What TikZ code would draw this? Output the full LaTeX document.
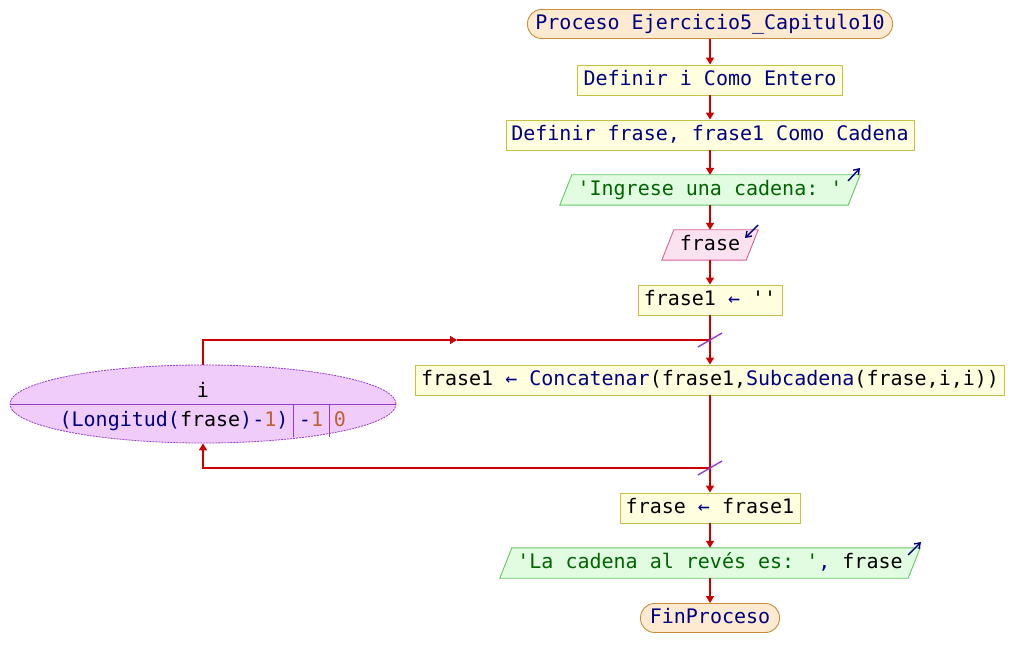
\documentclass[tikz,border=0pt]{standalone}
\usepackage{fontspec}
\setmonofont{DejaVu Sans Mono}
\usetikzlibrary{arrows.meta,backgrounds,shapes.geometric}
\definecolor{flowred}{RGB}{204,0,0}
\definecolor{kw}{RGB}{0,0,128}
\definecolor{strg}{RGB}{0,100,0}
\definecolor{num}{RGB}{192,96,48}
\definecolor{termfill}{RGB}{253,234,208}
\definecolor{termdraw}{RGB}{200,140,60}
\definecolor{boxfill}{RGB}{255,255,224}
\definecolor{boxdraw}{RGB}{200,192,64}
\definecolor{outfill}{RGB}{226,252,226}
\definecolor{outdraw}{RGB}{100,200,100}
\definecolor{infill}{RGB}{252,226,240}
\definecolor{indraw}{RGB}{210,100,150}
\definecolor{forfill}{RGB}{240,204,250}
\definecolor{fordraw}{RGB}{150,60,200}
\begin{document}
\begin{tikzpicture}[x=1pt,y=-1pt,
  txt/.style={font=\ttfamily\fontsize{20}{23}\selectfont, inner sep=0pt, text height=14pt, text depth=3.5pt, align=center},
  term/.style={txt, draw=termdraw, fill=termfill, line width=0.9pt, rounded corners=14pt, minimum height=29pt},
  proc/.style={txt, draw=boxdraw, fill=boxfill, line width=0.9pt, minimum height=30pt},
  io/.style={txt, minimum height=30pt},
  flow/.style={draw=flowred, line width=1.5pt, -{Triangle[width=8pt,length=7pt]}},
  line/.style={draw=flowred, line width=1.5pt},
  slash/.style={draw=fordraw, line width=1.4pt},
  ioarrow/.style={draw=kw, line width=1.4pt, -{Straight Barb[length=5pt,width=7pt]}},
  forshape/.style={ellipse, draw=fordraw, fill=forfill, line width=0.8pt, dash pattern=on 2pt off 1pt, minimum width=386pt, minimum height=78pt, inner sep=0pt}
]
\useasboundingbox (0,0) rectangle (1014,668);

\node[term, minimum width=365pt] (p1) at (710,24) {\color{kw}Proceso Ejercicio5\_Capitulo10};
\node[proc, minimum width=265pt] (d1) at (710,80) {\color{kw}Definir i Como Entero};
\node[proc, minimum width=408pt] (d2) at (710,135) {\color{kw}Definir frase, frase1 Como Cadena};
\node[io, minimum width=288pt] (o1) at (710,190) {\color{strg}'Ingrese una cadena: '};
\node[io, minimum width=84pt] (r1) at (710,245) {frase};
\node[proc, minimum width=144pt] (a1) at (710,300) {frase1 {\color{kw}←} ''};
\node[proc, minimum width=589pt] (cat) at (710,380) {frase1 {\color{kw}← Concatenar}(frase1,{\color{kw}Subcadena}(frase,i,i))};
\node[proc, minimum width=180pt] (a2) at (710,508) {frase {\color{kw}←} frase1};
\node[io, minimum width=408pt] (o2) at (710,563) {{\color{strg}'La cadena al revés es: '}{\color{kw},} frase};
\node[term, minimum width=139pt] (fin) at (710,618) {\color{kw}FinProceso};

\node[forshape] (ell) at (203,404) {};
\node[txt] (iv) at (203,392) {i};
\node[txt] (lim) at (174,421) {{\color{kw}(Longitud(}frase{\color{kw})-}{\color{num}1}{\color{kw})}};
\node[txt] (stp) at (311,421) {{\color{kw}-}{\color{num}1}};
\node[txt] (ini) at (340,421) {\color{num}0};
\draw[draw=fordraw, line width=0.8pt] (ell.west) -- (ell.east);
\draw[draw=fordraw, line width=0.8pt] (293,404) -- (293,437);
\draw[draw=fordraw, line width=0.8pt] (329,404) -- (329,437);

\begin{scope}[on background layer]
\filldraw[draw=outdraw, fill=outfill, line width=0.9pt]
  ([xshift=-6pt]o1.south west) -- ([xshift=6pt]o1.north west) -- ([xshift=6pt]o1.north east) -- ([xshift=-6pt]o1.south east) -- cycle;
\filldraw[draw=indraw, fill=infill, line width=0.9pt]
  ([xshift=-6pt]r1.south west) -- ([xshift=6pt]r1.north west) -- ([xshift=6pt]r1.north east) -- ([xshift=-6pt]r1.south east) -- cycle;
\filldraw[draw=outdraw, fill=outfill, line width=0.9pt]
  ([xshift=-6pt]o2.south west) -- ([xshift=6pt]o2.north west) -- ([xshift=6pt]o2.north east) -- ([xshift=-6pt]o2.south east) -- cycle;
\end{scope}

\coordinate (o1a) at (848,181);
\coordinate (o1b) at (860,168);
\coordinate (r1a) at (758,225);
\coordinate (r1b) at (745,238);
\coordinate (o2a) at (908,555);
\coordinate (o2b) at (921,542);
\draw[ioarrow] (o1a) -- (o1b);
\draw[ioarrow] (r1a) -- (r1b);
\draw[ioarrow] (o2a) -- (o2b);

\coordinate (jtop) at (710,340);
\coordinate (jbot) at (710,468);
\coordinate (lt) at (203,340);
\coordinate (lb) at (203,468);
\coordinate (mid) at (457,340);

\draw[flow] (p1) -- (d1);
\draw[flow] (d1) -- (d2);
\draw[flow] (d2) -- (o1);
\draw[flow] (o1) -- (r1);
\draw[flow] (r1) -- (a1);
\draw[flow] (a1) -- (cat);
\draw[flow] (cat) -- (a2);
\draw[flow] (a2) -- (o2);
\draw[flow] (o2) -- (fin);

\draw[flow] (ell.north) -- (lt) -- (mid);
\draw[line] (mid) -- (jtop);
\draw[flow] (jbot) -- (lb) -- (ell.south);

\draw[slash] ([shift={(-12pt,-7pt)}]jtop) -- ([shift={(12pt,7pt)}]jtop);
\draw[slash] ([shift={(-12pt,-7pt)}]jbot) -- ([shift={(12pt,7pt)}]jbot);
\end{tikzpicture}
\end{document}
